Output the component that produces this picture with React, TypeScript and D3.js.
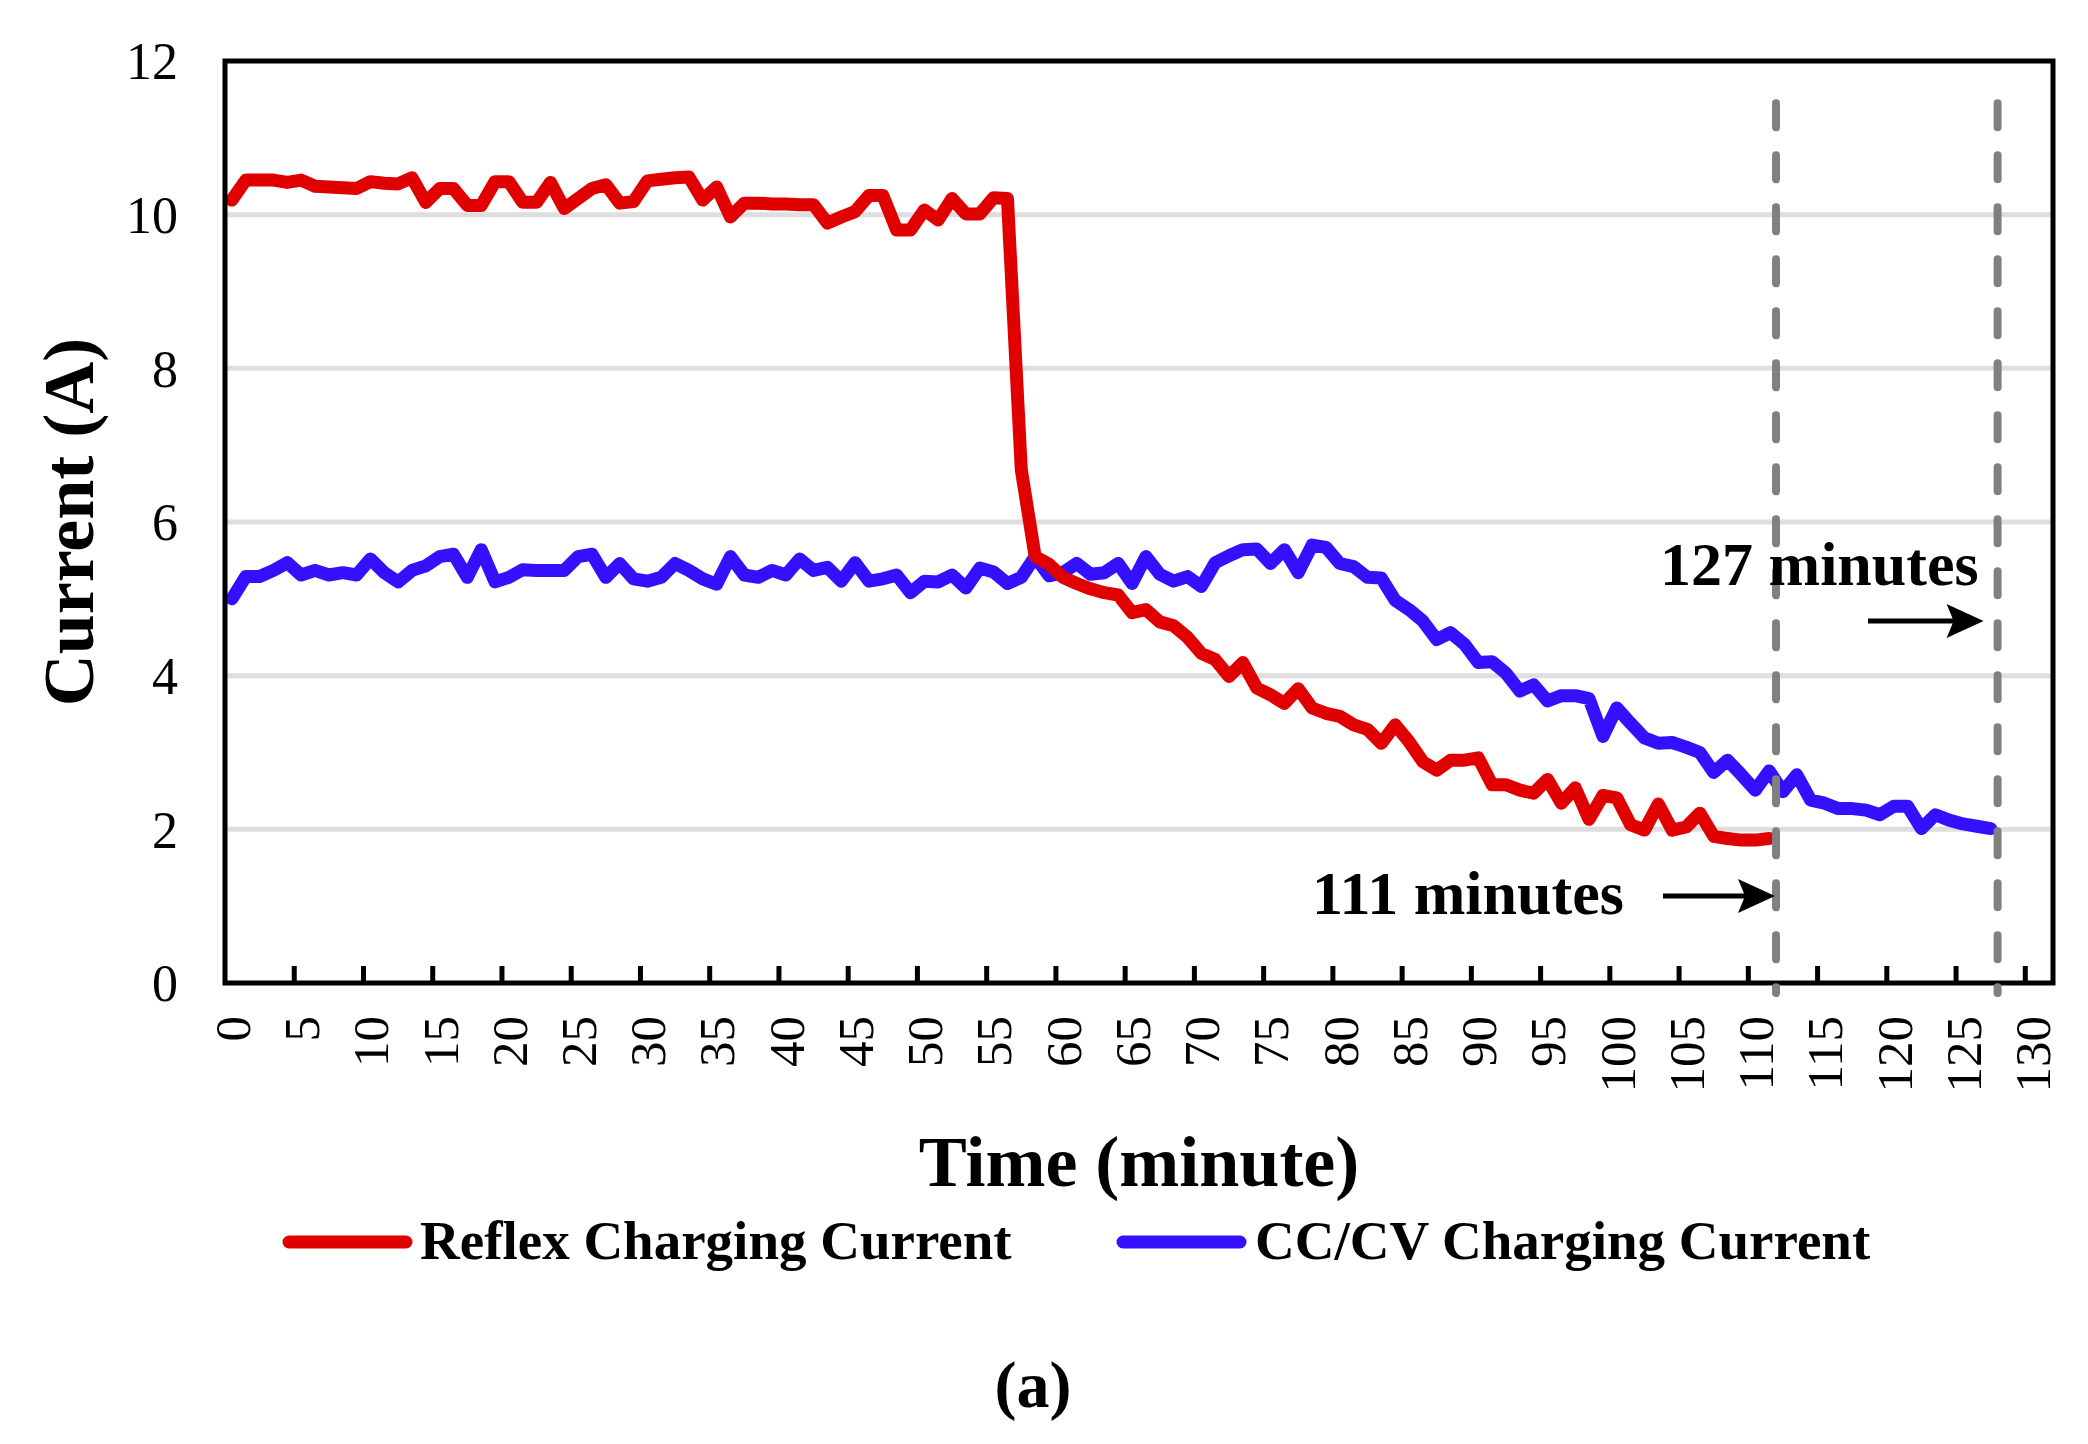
import { useMemo } from "react";
import * as d3 from "d3";

const WIDTH = 2088;
const HEIGHT = 1444;
const PLOT = { left: 225, right: 2053, top: 61, bottom: 983 };
const FONT = "'Liberation Serif', 'Times New Roman', Times, serif";

// one category per minute, 0..131 on the axis
const MINUTES = d3.range(0, 132);
const X_TICK_LABELS = [0, 5, 10, 15, 20, 25, 30, 35, 40, 45, 50, 55, 60, 65, 70, 75, 80, 85, 90, 95, 100, 105, 110, 115, 120, 125, 130];
const Y_TICKS = [0, 2, 4, 6, 8, 10, 12];
const END_MARKERS = [111, 127];

const REFLEX_CURRENT = [
  10.19, 10.45, 10.45, 10.45, 10.42, 10.45, 10.37, 10.36, 10.35, 10.34,
  10.43, 10.41, 10.4, 10.48, 10.16, 10.34, 10.34, 10.12, 10.12, 10.43,
  10.43, 10.16, 10.16, 10.42, 10.08, 10.21, 10.34, 10.39, 10.15, 10.17,
  10.44, 10.46, 10.48, 10.49, 10.19, 10.36, 9.97, 10.15, 10.15, 10.14,
  10.14, 10.13, 10.13, 9.89, 9.97, 10.04, 10.25, 10.25, 9.8, 9.8,
  10.06, 9.93, 10.21, 10.01, 10.01, 10.22, 10.21, 6.68, 5.55, 5.45,
  5.28, 5.2, 5.13, 5.08, 5.05, 4.82, 4.86, 4.7, 4.65, 4.5,
  4.29, 4.21, 3.99, 4.17, 3.84, 3.75, 3.64, 3.83, 3.58, 3.51,
  3.47, 3.36, 3.3, 3.12, 3.36, 3.14, 2.88, 2.77, 2.9, 2.9,
  2.93, 2.58, 2.58, 2.51, 2.47, 2.65, 2.34, 2.54, 2.13, 2.44,
  2.41, 2.06, 1.99, 2.33, 1.99, 2.03, 2.21, 1.91, 1.88, 1.86,
  1.86, 1.88,
];

const CCCV_CURRENT = [
  5.0, 5.29, 5.29, 5.37, 5.47, 5.31, 5.37, 5.31, 5.34, 5.31,
  5.52, 5.34, 5.22, 5.37, 5.43, 5.55, 5.58, 5.28, 5.64, 5.22,
  5.28, 5.38, 5.37, 5.37, 5.37, 5.55, 5.58, 5.28, 5.46, 5.26,
  5.23, 5.28, 5.46, 5.37, 5.26, 5.19, 5.55, 5.31, 5.28, 5.37,
  5.31, 5.52, 5.37, 5.41, 5.23, 5.47, 5.23, 5.26, 5.31, 5.08,
  5.23, 5.22, 5.31, 5.14, 5.4, 5.35, 5.2, 5.28, 5.55, 5.3,
  5.34, 5.46, 5.32, 5.34, 5.46, 5.2, 5.55, 5.32, 5.23, 5.29,
  5.16, 5.47, 5.56, 5.64, 5.65, 5.46, 5.64, 5.34, 5.7, 5.67,
  5.46, 5.42, 5.28, 5.27, 4.98, 4.86, 4.71, 4.47, 4.56, 4.41,
  4.17, 4.18, 4.03, 3.8, 3.88, 3.67, 3.74, 3.74, 3.7, 3.21,
  3.58, 3.38, 3.19, 3.12, 3.13, 3.07, 3.0, 2.74, 2.9, 2.71,
  2.51, 2.76, 2.49, 2.71, 2.38, 2.34, 2.27, 2.27, 2.25, 2.19,
  2.3, 2.3, 2.01, 2.19, 2.12, 2.07, 2.04, 2.01,
];

const RED = "#e00000";
const BLUE = "#3311ff";

export default function App() {
  const xScale = useMemo(
    () => d3.scaleBand<number>().domain(MINUTES).range([PLOT.left, PLOT.right]),
    []
  );
  const yScale = useMemo(
    () => d3.scaleLinear().domain([0, 12]).range([PLOT.bottom, PLOT.top]),
    []
  );
  const bw = xScale.bandwidth();
  const cx = (i: number) => (xScale(i) ?? 0) + bw / 2;
  const edge = (i: number) => (xScale(i) ?? 0) + bw;

  const lineGen = d3
    .line<number>()
    .x((_, i) => cx(i))
    .y((d) => yScale(d));

  const tickBoundaries = X_TICK_LABELS.filter((v) => v > 0);

  const [m111, m127] = END_MARKERS.map(edge);
  const dashTop = yScale(11.45);
  const dashBottom = yScale(-0.13);

  const arrow = (x1: number, x2: number, y: number, key: string) => (
    <g key={key}>
      <line x1={x1} x2={x2 - 20} y1={y} y2={y} stroke="#000" strokeWidth={5} />
      <path d={`M${x2},${y} L${x2 - 37},${y - 17} L${x2 - 30},${y} L${x2 - 37},${y + 17} Z`} fill="#000" />
    </g>
  );

  return (
    <svg
      width={WIDTH}
      height={HEIGHT}
      style={{ position: "absolute", left: 0, top: 0, background: "#fff" }}
      fontFamily={FONT}
    >
      <rect x={0} y={0} width={WIDTH} height={HEIGHT} fill="#fff" />

      {/* gridlines */}
      {Y_TICKS.filter((t) => t > 0 && t < 12).map((t) => (
        <line
          key={`g${t}`}
          x1={PLOT.left}
          x2={PLOT.right}
          y1={yScale(t)}
          y2={yScale(t)}
          stroke="#dedede"
          strokeWidth={5}
        />
      ))}

      {/* y labels */}
      {Y_TICKS.map((t) => (
        <text key={`y${t}`} x={178} y={yScale(t)} dy="0.35em" textAnchor="end" fontSize={52}>
          {t}
        </text>
      ))}

      {/* x ticks (inside) */}
      {tickBoundaries.map((v) => (
        <line
          key={`t${v}`}
          x1={xScale(v)}
          x2={xScale(v)}
          y1={PLOT.bottom}
          y2={PLOT.bottom - 17}
          stroke="#000"
          strokeWidth={5}
        />
      ))}

      {/* x labels */}
      {X_TICK_LABELS.map((v) => (
        <text
          key={`x${v}`}
          transform={`translate(${cx(v)},1016) rotate(-90)`}
          dy="0.35em"
          textAnchor="end"
          fontSize={51}
        >
          {v}
        </text>
      ))}

      {/* series */}
      <path
        d={lineGen(CCCV_CURRENT) ?? ""}
        fill="none"
        stroke={BLUE}
        strokeWidth={13}
        strokeLinejoin="round"
        strokeLinecap="round"
      />
      <path
        d={lineGen(REFLEX_CURRENT) ?? ""}
        fill="none"
        stroke={RED}
        strokeWidth={13}
        strokeLinejoin="round"
        strokeLinecap="round"
      />

      {/* plot border */}
      <rect
        x={PLOT.left}
        y={PLOT.top}
        width={PLOT.right - PLOT.left}
        height={PLOT.bottom - PLOT.top}
        fill="none"
        stroke="#000"
        strokeWidth={5}
      />

      {/* end-of-charge markers */}
      {[m111, m127].map((x, i) => (
        <line
          key={`d${i}`}
          x1={x}
          x2={x}
          y1={dashTop}
          y2={dashBottom}
          stroke="#808080"
          strokeWidth={8}
          strokeDasharray="24 28"
          strokeLinecap="round"
        />
      ))}

      <text x={1660} y={585} fontSize={62} fontWeight="bold">127 minutes</text>
      {arrow(1868, m127 - 14, 621, "a127")}
      <text x={1312} y={914} fontSize={62} fontWeight="bold">111 minutes</text>
      {arrow(1663, m111 - 1, 896, "a111")}

      {/* axis titles */}
      <text
        transform={`translate(93,${yScale(6)}) rotate(-90)`}
        textAnchor="middle"
        fontSize={72}
        fontWeight="bold"
      >
        Current (A)
      </text>
      <text x={(PLOT.left + PLOT.right) / 2} y={1186} textAnchor="middle" fontSize={72} fontWeight="bold">
        Time (minute)
      </text>

      {/* legend */}
      <line x1={289} x2={406} y1={1242} y2={1242} stroke={RED} strokeWidth={13} strokeLinecap="round" />
      <text x={420} y={1259} fontSize={55} fontWeight="bold">Reflex Charging Current</text>
      <line x1={1123} x2={1240} y1={1242} y2={1242} stroke={BLUE} strokeWidth={13} strokeLinecap="round" />
      <text x={1255} y={1259} fontSize={55} fontWeight="bold">CC/CV Charging Current</text>

      <text x={1033} y={1407} textAnchor="middle" fontSize={66} fontWeight="bold">(a)</text>
    </svg>
  );
}
